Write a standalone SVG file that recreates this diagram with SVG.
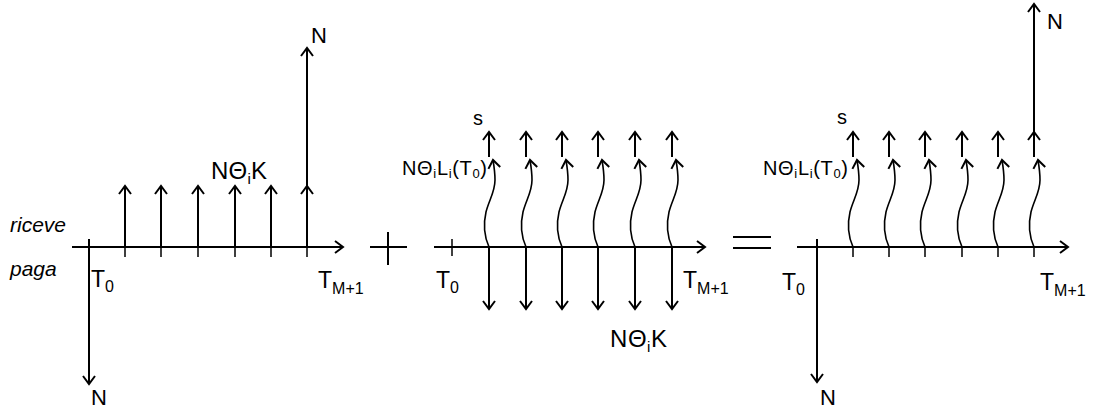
<svg xmlns="http://www.w3.org/2000/svg" width="1097" height="410" viewBox="0 0 1097 410">
<style>
.l{stroke:#000;stroke-width:2;fill:none}
.k{stroke:#000;stroke-width:1.5;fill:none}
.w{stroke:#000;stroke-width:1.6;fill:none;marker-end:url(#ah)}
.a{stroke:#000;stroke-width:2;fill:none;marker-end:url(#ah)}
.t{font-family:"Liberation Sans",Arial,sans-serif;fill:#000}
.it{font-family:"Liberation Sans",Arial,sans-serif;font-style:italic;font-size:21px;fill:#000}
</style>
<defs>
<marker id="ah" markerUnits="userSpaceOnUse" markerWidth="20" markerHeight="20" viewBox="-10 -10 20 20" refX="0" refY="0" orient="auto" overflow="visible">
<path d="M-8,-6 L0,0 L-8,6" fill="none" stroke="#000" stroke-width="2"/>
</marker>
</defs>
<rect width="1097" height="410" fill="#fff"/>
<g id="connectors">
<path class="a" d="M72,247 H343"/>
<path class="a" d="M89,239 V384"/>
<path class="k" d="M125,247 V257 M161,247 V257 M198,247 V257 M235,247 V257 M271,247 V257 M307,247 V257"/>
<path class="a" d="M125,247 V186"/>
<path class="a" d="M161,247 V186"/>
<path class="a" d="M198,247 V186"/>
<path class="a" d="M235,247 V186"/>
<path class="a" d="M271,247 V186"/>
<path class="a" d="M307,247 V186"/>
<path class="a" d="M307,186 V48"/>
<path class="l" d="M370,247 H407 M388,232 V265"/>
<path class="a" d="M434,247 H705"/>
<path class="k" d="M452,239 V256"/>
<path class="a" d="M489,247 V309"/>
<path class="a" d="M526,247 V309"/>
<path class="a" d="M562,247 V309"/>
<path class="a" d="M598,247 V309"/>
<path class="a" d="M635,247 V309"/>
<path class="a" d="M672,247 V309"/>
<path class="w" d="M489,247 C485,238 483,225 486,212 C489,200 495,192 495,180 C495,172 494,166 493,160"/>
<path class="w" d="M526,247 C522,238 520,225 523,212 C526,200 532,192 532,180 C532,172 531,166 530,160"/>
<path class="w" d="M562,247 C558,238 556,225 559,212 C562,200 568,192 568,180 C568,172 567,166 566,160"/>
<path class="w" d="M598,247 C594,238 592,225 595,212 C598,200 604,192 604,180 C604,172 603,166 602,160"/>
<path class="w" d="M635,247 C631,238 629,225 632,212 C635,200 641,192 641,180 C641,172 640,166 639,160"/>
<path class="w" d="M672,247 C668,238 666,225 669,212 C672,200 678,192 678,180 C678,172 677,166 676,160"/>
<path class="a" d="M489,157 V132"/>
<path class="a" d="M526,157 V132"/>
<path class="a" d="M562,157 V132"/>
<path class="a" d="M598,157 V132"/>
<path class="a" d="M635,157 V132"/>
<path class="a" d="M672,157 V132"/>
<path class="l" d="M733,237 H771 M733,248 H771"/>
<path class="a" d="M797,247 H1068"/>
<path class="a" d="M817,239 V382"/>
<path class="k" d="M853,247 V257 M889,247 V257 M925,247 V257 M962,247 V257 M998,247 V257 M1034,247 V257"/>
<path class="w" d="M853,247 C849,238 847,225 850,212 C853,200 859,192 859,180 C859,172 858,166 857,160"/>
<path class="w" d="M889,247 C885,238 883,225 886,212 C889,200 895,192 895,180 C895,172 894,166 893,160"/>
<path class="w" d="M925,247 C921,238 919,225 922,212 C925,200 931,192 931,180 C931,172 930,166 929,160"/>
<path class="w" d="M962,247 C958,238 956,225 959,212 C962,200 968,192 968,180 C968,172 967,166 966,160"/>
<path class="w" d="M998,247 C994,238 992,225 995,212 C998,200 1004,192 1004,180 C1004,172 1003,166 1002,160"/>
<path class="w" d="M1034,247 C1030,238 1028,225 1031,212 C1034,200 1040,192 1040,180 C1040,172 1039,166 1038,160"/>
<path class="a" d="M853,157 V132"/>
<path class="a" d="M889,157 V132"/>
<path class="a" d="M925,157 V132"/>
<path class="a" d="M962,157 V132"/>
<path class="a" d="M998,157 V132"/>
<path class="a" d="M1034,157 V132"/>
<path class="a" d="M1034,132 V4"/>
</g>
<g id="p1-labels">
<g id="p1-riceve"><text class="it" x="10" y="232">riceve</text></g>
<g id="p1-paga"><text class="it" x="10" y="276">paga</text></g>
<g id="p1-N-top"><text class="t" x="311" y="43" font-size="22">N</text></g>
<g id="p1-NthK"><text class="t" x="211" y="179" font-size="24" textLength="56" lengthAdjust="spacing">NΘ<tspan font-size="15" dy="5">i</tspan><tspan dy="-5">K</tspan></text></g>
<g id="p1-T0"><text class="t" x="91" y="287" font-size="23">T<tspan font-size="16" dy="5">0</tspan></text></g>
<g id="p1-TM1"><text class="t" x="318" y="288" font-size="23">T<tspan font-size="16" dy="6">M+1</tspan></text></g>
<g id="p1-N-bot"><text class="t" x="91" y="405" font-size="22">N</text></g>
</g>
<g id="p2-labels">
<g id="p2-s"><text class="t" x="473" y="125" font-size="20">s</text></g>
<g id="p2-NthL"><text class="t" x="402" y="175" font-size="20" textLength="85" lengthAdjust="spacing">NΘ<tspan font-size="13" dy="3">i</tspan><tspan dy="-3">L</tspan><tspan font-size="13" dy="3">i</tspan><tspan dy="-3">(T</tspan><tspan font-size="13" dy="3">0</tspan><tspan dy="-3">)</tspan></text></g>
<g id="p2-T0"><text class="t" x="436" y="288" font-size="23">T<tspan font-size="16" dy="5">0</tspan></text></g>
<g id="p2-TM1"><text class="t" x="683" y="288" font-size="23">T<tspan font-size="16" dy="6">M+1</tspan></text></g>
<g id="p2-NthK"><text class="t" x="610" y="347" font-size="24" textLength="57" lengthAdjust="spacing">NΘ<tspan font-size="15" dy="5">i</tspan><tspan dy="-5">K</tspan></text></g>
</g>
<g id="p3-labels">
<g id="p3-s"><text class="t" x="837" y="124" font-size="20">s</text></g>
<g id="p3-NthL"><text class="t" x="763" y="175" font-size="20" textLength="85" lengthAdjust="spacing">NΘ<tspan font-size="13" dy="3">i</tspan><tspan dy="-3">L</tspan><tspan font-size="13" dy="3">i</tspan><tspan dy="-3">(T</tspan><tspan font-size="13" dy="3">0</tspan><tspan dy="-3">)</tspan></text></g>
<g id="p3-N-top"><text class="t" x="1047" y="29" font-size="22">N</text></g>
<g id="p3-T0"><text class="t" x="782" y="290" font-size="23">T<tspan font-size="16" dy="5">0</tspan></text></g>
<g id="p3-TM1"><text class="t" x="1040" y="290" font-size="23">T<tspan font-size="16" dy="6">M+1</tspan></text></g>
<g id="p3-N-bot"><text class="t" x="820" y="405" font-size="22">N</text></g>
</g>
</svg>
